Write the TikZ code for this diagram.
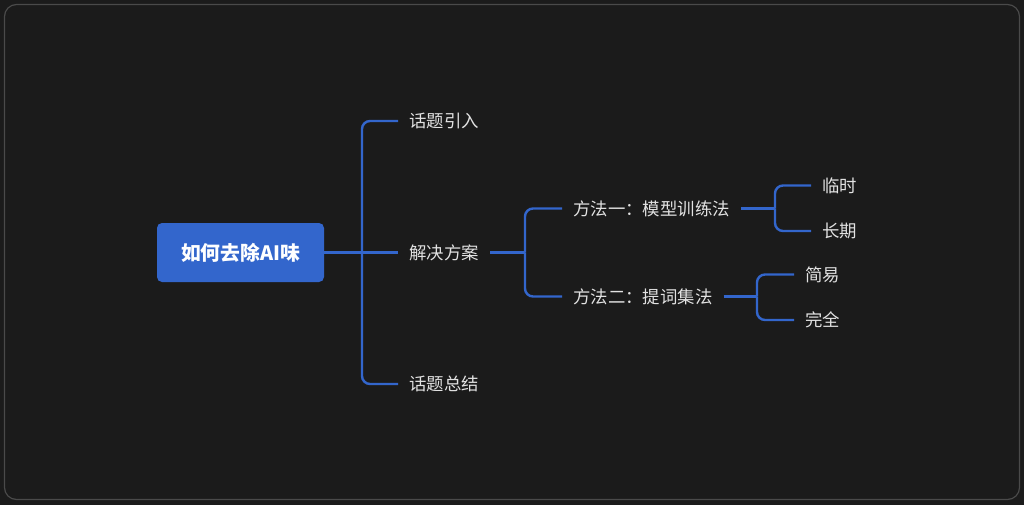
\documentclass[tikz,border=0pt]{standalone}
\usepackage{fontspec}
\setmainfont{Noto Sans CJK SC}
\definecolor{bg}{HTML}{1B1B1B}
\definecolor{frame}{HTML}{4A4A4A}
\definecolor{mblue}{HTML}{3366CC}
\definecolor{txt}{HTML}{E2E2E2}
\begin{document}
\begin{tikzpicture}[x=1pt,y=-1pt,
  conn/.style={draw=mblue,line width=2.4pt,rounded corners=8pt},
  lbl/.style={anchor=west,inner xsep=11pt,inner ysep=2pt,text=txt,font=\fontsize{17.4}{19}\selectfont},
  rootbox/.style={fill=mblue,rounded corners=5pt,text=white,font=\fontsize{19.8}{22}\bfseries,minimum width=167pt,minimum height=59pt,inner sep=0pt}]
\fill[bg] (0,0) rectangle (1024,505);
\useasboundingbox (0,0) rectangle (1024,505);
\draw[frame,line width=1.2pt,rounded corners=12pt] (4.5,4.5) rectangle (1019.5,499.5);
\node[rootbox] (root) at (240.5,252.5) {如何去除AI味};
\node[lbl] (a) at (398,121) {话题引入};
\node[lbl] (b) at (398,252.5) {解决方案};
\node[lbl] (c) at (398,384) {话题总结};
\node[lbl] (b1) at (562,208.5) {方法一：模型训练法};
\node[lbl] (b2) at (562,296.5) {方法二：提词集法};
\node[lbl] (b11) at (811,185.5) {临时};
\node[lbl] (b12) at (811,231) {长期};
\node[lbl] (b21) at (794,274.5) {简易};
\node[lbl] (b22) at (794,320) {完全};
\coordinate (t0) at (362,0);
\coordinate (t1) at (525,0);
\coordinate (t2) at (775,0);
\coordinate (t3) at (757,0);
\draw[conn] (root.east) -- (b.west);
\foreach \c in {a,c}
  \draw[conn] (t0 |- root.east) -- (t0 |- \c.west) -- (\c.west);
\draw[conn] (b.east) -- (t1 |- b.east);
\foreach \c in {b1,b2}
  \draw[conn] (t1 |- b.east) -- (t1 |- \c.west) -- (\c.west);
\draw[conn] (b1.east) -- (t2 |- b1.east);
\foreach \c in {b11,b12}
  \draw[conn] (t2 |- b1.east) -- (t2 |- \c.west) -- (\c.west);
\draw[conn] (b2.east) -- (t3 |- b2.east);
\foreach \c in {b21,b22}
  \draw[conn] (t3 |- b2.east) -- (t3 |- \c.west) -- (\c.west);
\end{tikzpicture}
\end{document}
